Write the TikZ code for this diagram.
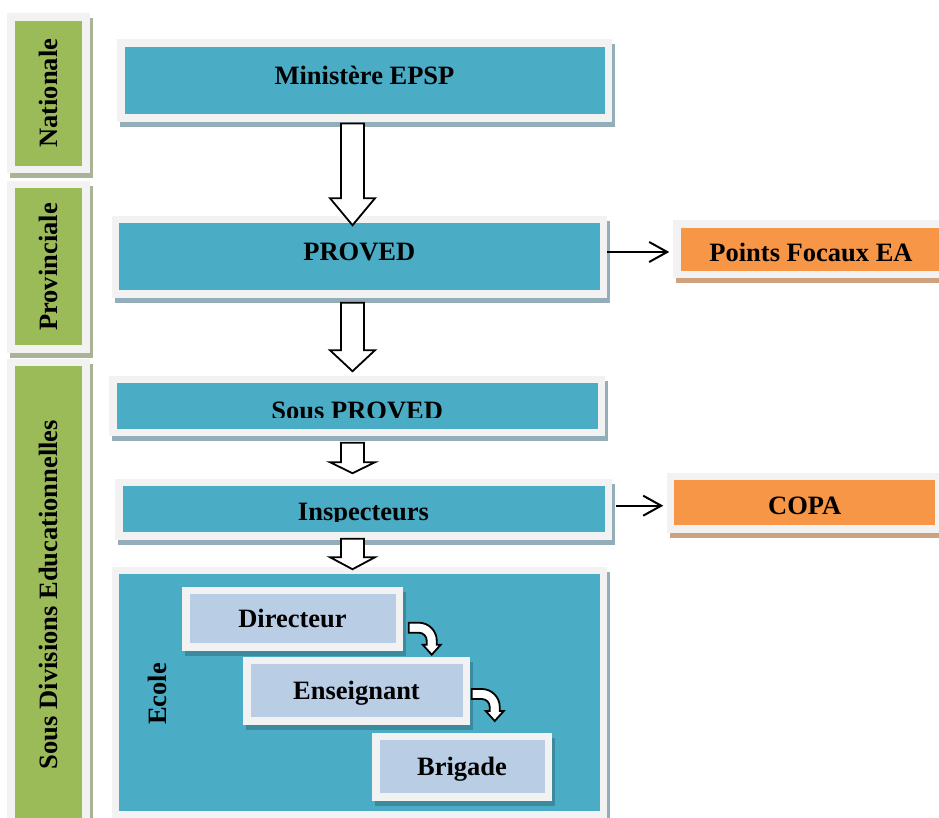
\documentclass[tikz,border=0pt]{standalone}
\usepackage{fontspec}
\setmainfont{Liberation Serif}
\usepackage{graphicx}
\usepackage{tikz}
\usetikzlibrary{arrows.meta,calc}

\definecolor{boxblue}{HTML}{4BACC6}
\definecolor{framegray}{HTML}{F2F2F2}
\definecolor{blueshadow}{HTML}{93AEB8}
\definecolor{levelgreen}{HTML}{9BBB59}
\definecolor{greenshadow}{HTML}{A9B396}
\definecolor{focalorange}{HTML}{F79646}
\definecolor{orangeshadow}{HTML}{CFA27F}
\definecolor{rolefill}{HTML}{B9CDE5}
\definecolor{roleshadow}{HTML}{3C8A9E}

\newcommand{\boxfont}{\fontsize{26.5}{30}\selectfont\bfseries}
% white block arrow pointing down: start, tip, head length
\newcommand{\downblock}[3]{%
  \draw[bigarrow] ($(#1)+(-11.5,0)$) -- ($(#2)+(-11.5,#3)$) -- ($(#2)+(-22.5,#3)$) -- (#2)
    -- ($(#2)+(22.5,#3)$) -- ($(#2)+(11.5,#3)$) -- ($(#1)+(11.5,0)$) -- cycle;}
% small bent arrow, right then down
\newcommand{\bentblock}[1]{%
  \draw[bigarrow] (#1) ++(0,5) -- ++(10,0) arc[start angle=90,end angle=0,radius=18] -- ++(0,-4) -- ++(4,0)
    -- ++(-9,-10) -- ++(-9,10) -- ++(4,0) -- ++(0,4) arc[start angle=0,end angle=90,radius=8] -- ++(-10,0) -- cycle;}

\begin{document}
\begin{tikzpicture}[x=1pt,y=1pt,
    frame/.style={draw=framegray,line width=7.5pt,inner sep=0pt,font=\boxfont},
    shadowed/.style={preaction={draw=#1,fill=#1,line width=7.5pt,transform canvas={shift={(3pt,-5pt)}}}},
    textbox/.style={frame,text height=18pt,text depth=0pt},
    levelbox/.style={frame,fill=levelgreen,shadowed=greenshadow,minimum width=75pt},
    bluebox/.style={textbox,fill=boxblue,shadowed=blueshadow},
    orangebox/.style={textbox,fill=focalorange,shadowed=orangeshadow},
    rolebox/.style={textbox,fill=rolefill,shadowed=roleshadow},
    link/.style={-{Straight Barb[length=18pt,width=20pt]},line width=2pt},
    bigarrow/.style={draw=black,fill=white,line width=1.8pt,line join=miter}]
  \useasboundingbox (0,0) rectangle (939,818);
  \clip (0,0) rectangle (939,818);

  % levels
  \node[levelbox,minimum height=152.5pt] (nationale) at (48.25,724.75) {\rotatebox{90}{Nationale}};
  \node[levelbox,minimum height=164.5pt] (provinciale) at (48.25,551) {\rotatebox{90}{Provinciale}};
  \node[levelbox,minimum height=463.5pt] (sousdivisions) at (48.25,223.5) {\rotatebox{90}{Sous Divisions Educationnelles}};

  % structures
  \node[bluebox,minimum width=487.5pt,minimum height=75pt,text depth=10pt] (ministere) at (364.5,737.65) {Ministère EPSP};
  \node[bluebox,minimum width=488pt,minimum height=74.5pt,text depth=10pt] (proved) at (359.35,561) {PROVED};
  \node[orangebox,minimum width=268pt,minimum height=50.5pt,text height=24pt] (pointsfocaux) at (811,568.75) {Points Focaux EA};
  \node[bluebox,minimum width=488.5pt,minimum height=53pt] (sousproved) at (357.25,412) {};
  \begin{scope}
    \clip ([yshift=-11.5pt]sousproved.west) rectangle (sousproved.north east);
    \node[font=\boxfont,anchor=base] (sousprovedtext) at ([yshift=-13.2pt]sousproved.center) {Sous PROVED};
  \end{scope}
  \node[bluebox,minimum width=489.5pt,minimum height=53.5pt] (inspecteurs) at (363.5,308.5) {};
  \begin{scope}
    \clip ([yshift=-12pt]inspecteurs.west) rectangle (inspecteurs.north east);
    \node[font=\boxfont,anchor=base] (inspecteurstext) at ([yshift=-11pt]inspecteurs.center) {Inspecteurs};
  \end{scope}
  \node[orangebox,minimum width=268.5pt,minimum height=52.5pt,text height=23pt] (copa) at (804.75,315) {COPA};

  % school
  \node[bluebox,minimum width=488pt,minimum height=244.5pt] (ecole) at (359.5,125) {};
  \node[font=\boxfont] (ecolelabel) at (157,124) {\rotatebox{90}{Ecole}};
  \node[rolebox,minimum width=213.5pt,minimum height=56.5pt] (directeur) at (292.5,199) {Directeur};
  \node[rolebox,minimum width=219.5pt,minimum height=60.5pt] (enseignant) at (356.5,127) {Enseignant};
  \node[rolebox,minimum width=172.5pt,minimum height=60.5pt] (brigade) at (462,51) {Brigade};

  % arrows
  \draw[link] ([yshift=5pt]proved.east) -- ([xshift=-4pt,yshift=-2.75pt]pointsfocaux.west);
  \draw[link] ([xshift=3.75pt,yshift=3.8pt]inspecteurs.east) -- ([xshift=-3.5pt,yshift=-2.7pt]copa.west);

  \coordinate (axis) at (352.5,0);
  \coordinate (a1) at ($(axis |- ministere.south)+(0,-2)$);
  \coordinate (b1) at ($(axis |- proved.north)+(0,-9.25)$);
  \coordinate (a2) at ($(axis |- proved.south)+(0,-4.75)$);
  \coordinate (b2) at ($(axis |- sousproved.north)+(0,4.5)$);
  \coordinate (a3) at ($(axis |- sousproved.south)+(0,-6.5)$);
  \coordinate (b3) at ($(axis |- inspecteurs.north)+(0,5.75)$);
  \coordinate (a4) at ($(axis |- inspecteurs.south)+(0,1.25)$);
  \coordinate (b4) at ($(axis |- ecole.north)+(0,-2.25)$);
  \downblock{a1}{b1}{27}
  \downblock{a2}{b2}{21}
  \downblock{a3}{b3}{11}
  \downblock{a4}{b4}{12}

  \coordinate (bend1) at ($(directeur.east)+(5.75,-8.7)$);
  \coordinate (bend2) at ($(enseignant.east)+(1.75,-3)$);
  \bentblock{bend1}
  \bentblock{bend2}
\end{tikzpicture}
\end{document}
